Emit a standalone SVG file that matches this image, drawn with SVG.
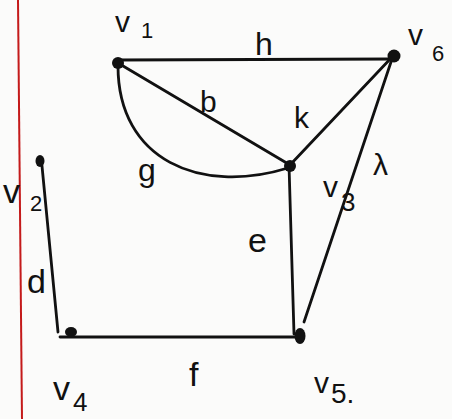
<svg xmlns="http://www.w3.org/2000/svg" width="452" height="419" viewBox="0 0 452 419">
<style>
.e{stroke:#111;stroke-width:2.8;fill:none;stroke-linecap:round}
.n{fill:#111}
.t{font-family:"Liberation Sans",Arial,sans-serif;fill:#111;font-size:30px}
.s{font-family:"Liberation Sans",Arial,sans-serif;fill:#111;font-size:22px}
</style>
<rect width="452" height="419" fill="#fbfbfa"/>
<line x1="18" y1="0" x2="22" y2="419" stroke="#c41a1a" stroke-width="2"/>
<g id="connectors">
<line class="e" x1="118" y1="60" x2="392" y2="59"/>
<line class="e" x1="118" y1="63" x2="290" y2="165"/>
<line class="e" x1="290" y1="165" x2="393" y2="56"/>
<path class="e" d="M118,66 C118,160 200,195 288,168"/>
<line class="e" x1="393" y1="56" x2="304" y2="322"/>
<line class="e" x1="289" y1="165" x2="294" y2="334"/>
<line class="e" x1="42" y1="166" x2="58" y2="332"/>
<line class="e" x1="60" y1="337" x2="300" y2="337"/>
<text class="t" x="255" y="55" style="font-size:32px">h</text>
<text class="t" x="200" y="112" style="font-size:30px">b</text>
<text class="t" x="294" y="128" style="font-size:30px">k</text>
<text class="t" x="138" y="181" style="font-size:32px">g</text>
<text class="t" x="373" y="175">λ</text>
<text class="t" x="248" y="252" style="font-size:34px">e</text>
<text class="t" x="27" y="293" style="font-size:34px">d</text>
<text class="t" x="189" y="386" style="font-size:34px">f</text>
</g>
<g id="v1"><circle class="n" cx="118" cy="63" r="6"/><text class="t" x="115" y="32">v</text><text class="s" x="141" y="38">1</text></g>
<g id="v6"><circle class="n" cx="394" cy="56" r="6.5"/><text class="t" x="408" y="45">v</text><text class="s" x="432" y="61">6</text></g>
<g id="v2"><ellipse class="n" cx="40" cy="161" rx="4.5" ry="6"/><text class="t" x="3" y="203" style="font-size:34px">v</text><text class="s" x="30" y="211">2</text></g>
<g id="v3"><circle class="n" cx="290" cy="166" r="6"/><text class="t" x="323" y="197" style="font-size:30px">v</text><text class="t" x="341" y="211" style="font-size:26px">3</text></g>
<g id="v4"><ellipse class="n" cx="71" cy="332" rx="6" ry="5"/><text class="t" x="53" y="400" style="font-size:34px">v</text><text class="t" x="73" y="411" style="font-size:26px">4</text></g>
<g id="v5"><ellipse class="n" cx="300" cy="336" rx="5.5" ry="8"/><text class="t" x="314" y="393">v</text><text class="t" x="331" y="403" style="font-size:28px">5.</text></g>
</svg>
